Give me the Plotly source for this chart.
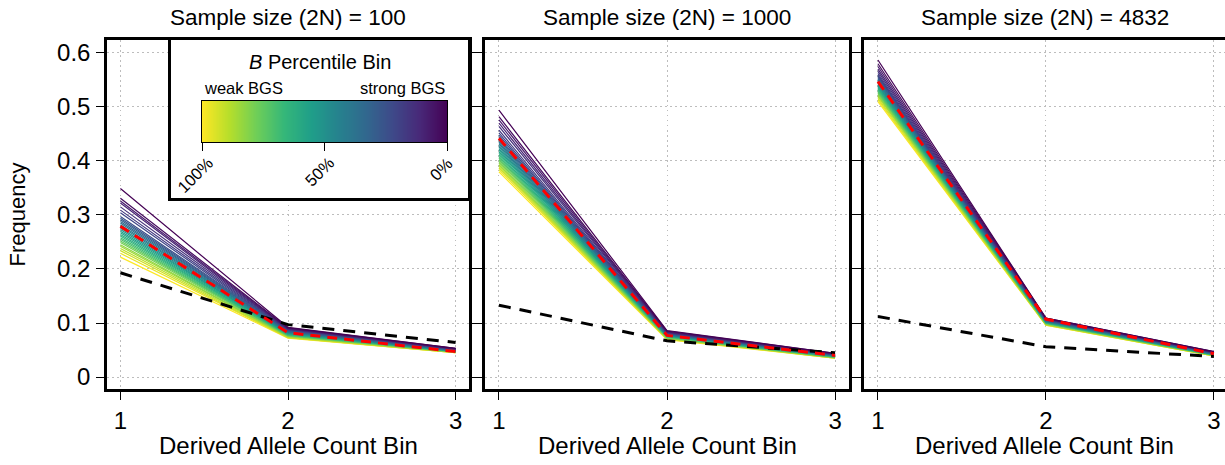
import plotly.graph_objects as go
from plotly.colors import sample_colorscale

# ---------------- data ----------------
x_bins = [1, 2, 3]
x_tick_labels = ["1", "2", "3"]
y_ticks = [0, 0.1, 0.2, 0.3, 0.4, 0.5, 0.6]
y_tick_labels = ["0", "0.1", "0.2", "0.3", "0.4", "0.5", "0.6"]

# B percentile bin of each line (0% = strongest BGS)
bin_pct = [0, 3, 7, 10, 14, 17, 21, 24, 28, 31, 34, 38, 41, 45, 48,
           52, 55, 59, 62, 66, 69, 72, 76, 79, 83, 86, 90, 93, 97, 100]

panel_titles = ["Sample size (2N) = 100", "Sample size (2N) = 1000", "Sample size (2N) = 4832"]

# 2N = 100
n100_bin1 = [0.349, 0.331, 0.326, 0.322, 0.315, 0.309, 0.304, 0.297, 0.294, 0.291,
             0.288, 0.285, 0.282, 0.279, 0.276, 0.273, 0.270, 0.267, 0.264, 0.261,
             0.258, 0.255, 0.252, 0.249, 0.245, 0.242, 0.238, 0.234, 0.229, 0.222]
n100_bin2 = [0.092, 0.091, 0.090, 0.089, 0.089, 0.088, 0.087, 0.087, 0.086, 0.085,
             0.085, 0.084, 0.083, 0.083, 0.082, 0.081, 0.081, 0.080, 0.079, 0.079,
             0.078, 0.077, 0.077, 0.076, 0.075, 0.075, 0.074, 0.073, 0.073, 0.072]
n100_bin3 = [0.053, 0.053, 0.052, 0.052, 0.052, 0.051, 0.051, 0.051, 0.050, 0.050,
             0.050, 0.049, 0.049, 0.049, 0.049, 0.048, 0.048, 0.048, 0.048, 0.047,
             0.047, 0.047, 0.047, 0.046, 0.046, 0.046, 0.046, 0.045, 0.045, 0.045]
n100_mean = [0.279, 0.082, 0.047]
n100_neutral = [0.193, 0.097, 0.064]

# 2N = 1000
n1000_bin1 = [0.494, 0.482, 0.476, 0.470, 0.464, 0.457, 0.452, 0.448, 0.444, 0.441,
              0.438, 0.435, 0.432, 0.429, 0.426, 0.423, 0.420, 0.417, 0.414, 0.411,
              0.408, 0.405, 0.402, 0.399, 0.396, 0.393, 0.390, 0.387, 0.384, 0.380]
n1000_bin2 = [0.086, 0.085, 0.084, 0.083, 0.083, 0.082, 0.081, 0.081, 0.080, 0.080,
              0.079, 0.079, 0.078, 0.078, 0.077, 0.077, 0.076, 0.076, 0.075, 0.075,
              0.074, 0.074, 0.073, 0.073, 0.072, 0.072, 0.071, 0.071, 0.070, 0.069]
n1000_bin3 = [0.044, 0.044, 0.043, 0.043, 0.043, 0.042, 0.042, 0.042, 0.041, 0.041,
              0.041, 0.040, 0.040, 0.040, 0.039, 0.039, 0.039, 0.038, 0.038, 0.038,
              0.037, 0.037, 0.037, 0.037, 0.036, 0.036, 0.036, 0.035, 0.035, 0.035]
n1000_mean = [0.442, 0.077, 0.040]
n1000_neutral = [0.133, 0.067, 0.045]

# 2N = 4832
n4832_bin1 = [0.587, 0.580, 0.575, 0.570, 0.566, 0.562, 0.559, 0.557, 0.555, 0.553,
              0.551, 0.549, 0.547, 0.545, 0.543, 0.541, 0.539, 0.537, 0.535, 0.533,
              0.531, 0.529, 0.527, 0.525, 0.523, 0.521, 0.519, 0.516, 0.513, 0.510]
n4832_bin2 = [0.109, 0.109, 0.108, 0.108, 0.107, 0.107, 0.106, 0.106, 0.105, 0.105,
              0.104, 0.104, 0.104, 0.103, 0.103, 0.102, 0.102, 0.101, 0.101, 0.100,
              0.100, 0.100, 0.099, 0.099, 0.098, 0.098, 0.097, 0.097, 0.096, 0.096]
n4832_bin3 = [0.047, 0.047, 0.046, 0.046, 0.046, 0.045, 0.045, 0.045, 0.044, 0.044,
              0.044, 0.044, 0.043, 0.043, 0.043, 0.042, 0.042, 0.042, 0.042, 0.041,
              0.041, 0.041, 0.041, 0.040, 0.040, 0.040, 0.040, 0.039, 0.039, 0.039]
n4832_mean = [0.547, 0.107, 0.043]
n4832_neutral = [0.112, 0.056, 0.038]

legend_pct = [0, 100]
legend_ticks = [100, 50, 0]
legend_tick_labels = ["100%", "50%", "0%"]

# ---------------- figure ----------------
W, H = 1225, 465
FONT = "Liberation Sans, Arial, Helvetica, sans-serif"

panels = [
    (n100_bin1, n100_bin2, n100_bin3, n100_mean, n100_neutral),
    (n1000_bin1, n1000_bin2, n1000_bin3, n1000_mean, n1000_neutral),
    (n4832_bin1, n4832_bin2, n4832_bin3, n4832_mean, n4832_neutral),
]
axis_ids = [("x", "y"), ("x2", "y2"), ("x3", "y3")]
colors = sample_colorscale("Viridis", [p / 100 for p in bin_pct])

fig = go.Figure()
for (b1, b2, b3, mean, neutral), (xa, ya) in zip(panels, axis_ids):
    for j in reversed(range(len(bin_pct))):
        fig.add_trace(go.Scatter(
            x=x_bins, y=[b1[j], b2[j], b3[j]], mode="lines",
            line=dict(color=colors[j], width=1.2),
            xaxis=xa, yaxis=ya, showlegend=False, hoverinfo="skip"))
    fig.add_trace(go.Scatter(
        x=x_bins, y=neutral, mode="lines",
        line=dict(color="black", width=3, dash="12px,9px"),
        xaxis=xa, yaxis=ya, showlegend=False, hoverinfo="skip"))
    fig.add_trace(go.Scatter(
        x=x_bins, y=mean, mode="lines",
        line=dict(color="red", width=3, dash="10px,7px"),
        xaxis=xa, yaxis=ya, showlegend=False, hoverinfo="skip"))

# legend box background (its own inset axes, drawn above panel 1)
fig.add_trace(go.Scatter(
    x=[0, 1, 1, 0, 0], y=[0, 0, 1, 1, 0], mode="lines", fill="toself",
    fillcolor="white", line=dict(width=0, color="white"),
    xaxis="x4", yaxis="y4", showlegend=False, hoverinfo="skip"))

# colour key (inset heatmap)
fig.add_trace(go.Heatmap(
    z=[legend_pct], x=legend_pct, y=[0], colorscale="Viridis", zsmooth="best",
    zmin=0, zmax=100, showscale=False, hoverinfo="skip",
    xaxis="x5", yaxis="y5"))

# pixel layout helpers
def px_x(p):
    return p / W

def px_y(p):
    return 1 - p / H

panel_px = [(107, 469), (485, 849), (864, 1225)]
top_px, bot_px = 40, 389
x_ranges = [[0.92, 3.08], [0.917, 3.083], [0.917, 3.066]]
y_range = [-0.0222, 0.624]
GRID = dict(showgrid=True, gridcolor="#BDBDBD", griddash="1.5px,3.5px", gridwidth=1)

common_x = dict(
    tickvals=x_bins, ticktext=x_tick_labels, ticks="outside", ticklen=8, tickwidth=1,
    tickcolor="black", showline=True, linecolor="black", linewidth=2.5, mirror=True,
    zeroline=False, tickfont=dict(size=24, color="black", family=FONT),
    automargin=False, fixedrange=True, **GRID)
common_y = dict(
    range=y_range, tickvals=y_ticks, ticktext=y_tick_labels, ticks="outside", ticklen=8,
    tickwidth=1, tickcolor="black", showline=True, linecolor="black", linewidth=2.5,
    mirror="ticks", zeroline=False, tickfont=dict(size=24, color="black", family=FONT),
    ticklabelstandoff=1, automargin=False, fixedrange=True, **GRID)

layout_axes = {}
for i, ((l, r), xr) in enumerate(zip(panel_px, x_ranges)):
    sfx = "" if i == 0 else str(i + 1)
    layout_axes["xaxis" + sfx] = dict(common_x, domain=[px_x(l), min(px_x(r), 1.0)],
                                      range=xr, anchor="y" + sfx)
    layout_axes["yaxis" + sfx] = dict(common_y, domain=[px_y(bot_px), px_y(top_px)],
                                      anchor="x" + sfx, showticklabels=(i == 0))

hidden = dict(showticklabels=False, ticks="", showgrid=False, zeroline=False,
              automargin=False, fixedrange=True)
layout_axes["xaxis4"] = dict(hidden, domain=[px_x(171), px_x(468)], range=[0, 1],
                             anchor="y4", showline=True, linecolor="black",
                             linewidth=2.5, mirror=True)
layout_axes["yaxis4"] = dict(hidden, domain=[px_y(198), px_y(40)], range=[0, 1],
                             anchor="x4", showline=True, linecolor="black",
                             linewidth=2.5, mirror=True)

layout_axes["xaxis5"] = dict(
    domain=[px_x(202), px_x(447)], range=[100, 0], anchor="y5",
    tickvals=legend_ticks, showticklabels=False,
    ticks="outside", ticklen=8, tickcolor="black", tickwidth=1,
    showline=True, linecolor="black", linewidth=1, mirror=True, showgrid=False,
    zeroline=False, automargin=False, fixedrange=True)
layout_axes["yaxis5"] = dict(hidden, domain=[px_y(142), px_y(101)], range=[-0.5, 0.5],
                             anchor="x5", showline=True, linecolor="black",
                             linewidth=1, mirror=True)

fig.update_layout(
    width=W, height=H, margin=dict(l=0, r=0, t=0, b=0),
    paper_bgcolor="white", plot_bgcolor="white",
    font=dict(family=FONT, color="black"),
    **layout_axes)

ann = []
for (l, r), title in zip(panel_px, panel_titles):
    cx = px_x((l + r) / 2)
    ann.append(dict(text=title, x=cx, y=px_y(18), xref="paper", yref="paper",
                    showarrow=False, xanchor="center", yanchor="middle",
                    font=dict(size=22.5, family=FONT, color="black")))
    ann.append(dict(text="Derived Allele Count Bin", x=cx, y=px_y(445), xref="paper",
                    yref="paper", showarrow=False, xanchor="center", yanchor="middle",
                    font=dict(size=24, family=FONT, color="black")))
ann.append(dict(text="Frequency", x=px_x(17), y=px_y((top_px + bot_px) / 2),
                xref="paper", yref="paper", showarrow=False, textangle=-90,
                xanchor="center", yanchor="middle",
                font=dict(size=22, family=FONT, color="black")))
ann.append(dict(text="<i>B</i> Percentile Bin", x=px_x(320), y=px_y(62),
                xref="paper", yref="paper", showarrow=False, xanchor="center",
                yanchor="middle", font=dict(size=20, family=FONT, color="black")))
ann.append(dict(text="weak BGS", x=px_x(202), y=px_y(88), xref="paper", yref="paper",
                showarrow=False, xanchor="left", yanchor="middle",
                font=dict(size=16.5, family=FONT, color="black")))
ann.append(dict(text="strong BGS", x=px_x(447), y=px_y(88), xref="paper", yref="paper",
                showarrow=False, xanchor="right", yanchor="middle",
                font=dict(size=16.5, family=FONT, color="black")))
# rotated percent labels of the colour key
for lab, (cxp, cyp) in zip(legend_tick_labels, [(195, 175), (319, 172), (441, 169)]):
    ann.append(dict(text=lab, x=px_x(cxp), y=px_y(cyp), xref="paper", yref="paper",
                    showarrow=False, textangle=-45, xanchor="center", yanchor="middle",
                    font=dict(size=16.5, family=FONT, color="black")))
fig.update_layout(annotations=ann)

fig.write_html("out.html")
